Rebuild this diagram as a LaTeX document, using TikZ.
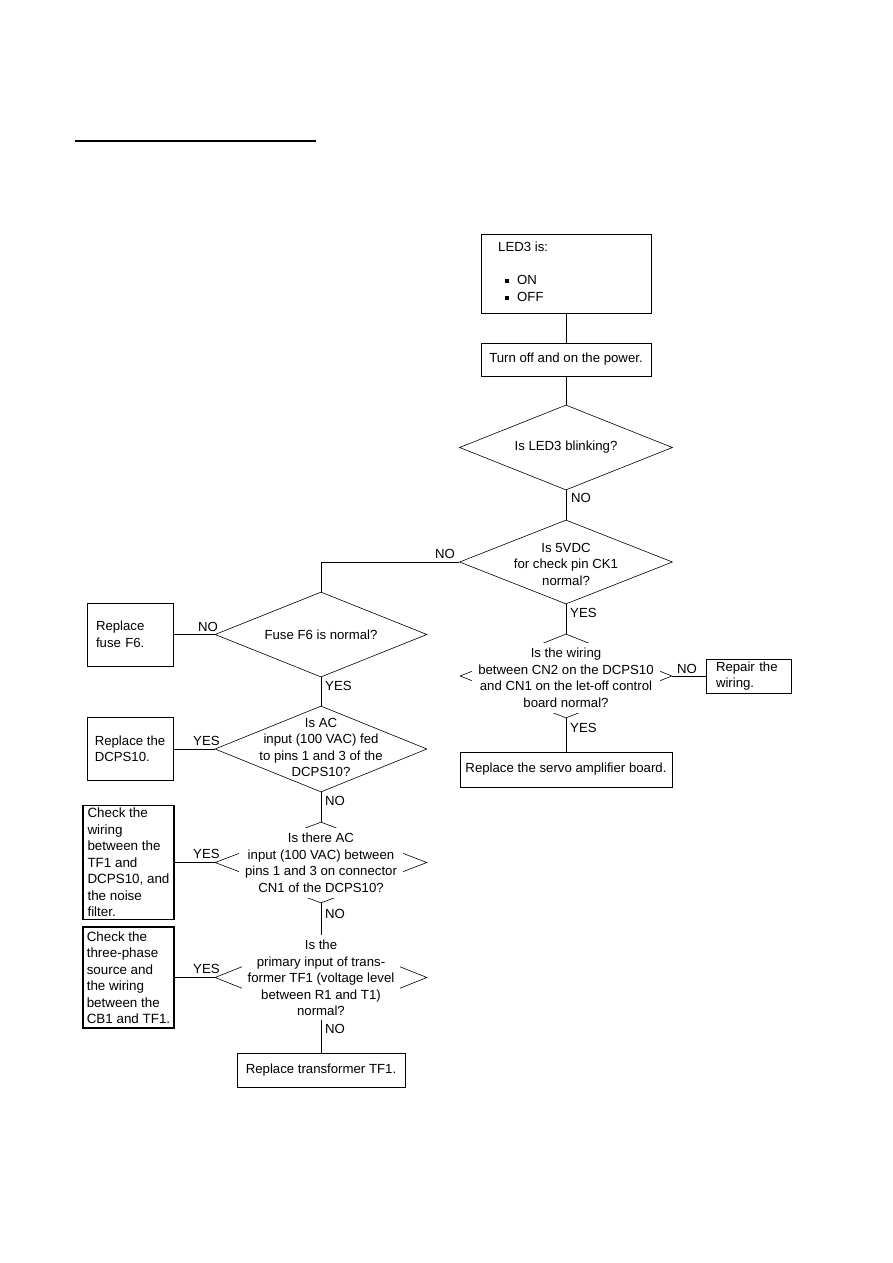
\documentclass[tikz,border=0pt]{standalone}
\usepackage{fontspec}
\setmainfont{Liberation Sans}
\usetikzlibrary{shapes.geometric}
\begin{document}
\begin{tikzpicture}[x=1pt,y=-1pt,
 line/.style={line width=0.6pt},
 box/.style={draw,line width=0.6pt,inner sep=0pt,font=\fontsize{13.2}{16.5}\selectfont},
 thickbox/.style={draw,line width=1.8pt,inner sep=0pt,align=left,minimum width=91pt,font=\fontsize{13.4}{16.5}\selectfont},
 dia/.style={draw,diamond,line width=0.6pt,inner sep=0pt},
 txt/.style={font=\fontsize{13.2}{16.5}\selectfont,align=center,inner sep=0pt},
 wtxt/.style={txt,fill=white,inner xsep=6pt,inner ysep=5pt},
 lbl/.style={font=\fontsize{13.2}{15}\selectfont,inner sep=0pt,anchor=base west},
]
\useasboundingbox (0,0) rectangle (893,1263);
\draw[line width=1.1pt] (75,141) coordinate (ul1) -- (316,141) coordinate (ul2);

% boxes
\node[box,minimum width=170pt,minimum height=79pt] (led) at (566,273.5) {};
\node[txt,anchor=west] (ledt) at (498,247) {LED3 is:};
\node[txt,anchor=west] (ont) at (517,280) {ON};
\node[txt,anchor=west] (offt) at (517,297) {OFF};
\node[fill=black,minimum size=3.5pt,inner sep=0pt] (b1) at (507,281) {};
\node[fill=black,minimum size=3.5pt,inner sep=0pt] (b2) at (507,298) {};
\node[box,minimum width=170pt,minimum height=33pt] (turn) at (566,359.5) {Turn off and on the power.};
\node[box,minimum height=34pt,text width=65pt,inner xsep=10pt,align=left] (repair) at (748.5,676) {Repair the\\wiring.};
\node[box,minimum width=212pt,minimum height=35pt] (servo) at (566,769.5) {Replace the servo amplifier board.};
\node[box,minimum height=63pt,text width=68pt,inner xsep=9pt,align=left] (fuse) at (130,634.5) {Replace\\fuse F6.};
\node[box,minimum height=63pt,minimum width=86pt,align=left] (dcps) at (130,749) {Replace the\\DCPS10.};
\node[thickbox,minimum height=114pt] (check1) at (128.5,862.5) {Check the\\wiring\\between the\\TF1 and\\DCPS10, and\\the noise\\filter.};
\node[thickbox,minimum height=101pt] (check2) at (128.5,977.5) {Check the\\three-phase\\source and\\the wiring\\between the\\CB1 and TF1.};
\node[box,minimum width=168pt,minimum height=34pt] (tf1) at (321,1070) {Replace transformer TF1.};

% diamonds
\node[dia,minimum width=213pt,minimum height=85pt] (d1) at (566,447.5) {};
\node[dia,minimum width=213pt,minimum height=84pt] (d2) at (566,562) {};
\node[dia,minimum width=212pt,minimum height=84pt] (d3) at (566,676) {};
\node[dia,minimum width=212pt,minimum height=85pt] (d4) at (321,634.5) {};
\node[dia,minimum width=212pt,minimum height=86pt] (d5) at (321,749) {};
\node[dia,minimum width=212pt,minimum height=81pt] (d6) at (321,862.5) {};
\node[dia,minimum width=212pt,minimum height=85pt] (d7) at (321,977.5) {};

\node[txt] (t1) at (d1) {Is LED3 blinking?};
\node[txt] (t2) at (566,564) {Is 5VDC\\for check pin CK1\\normal?};
\node[wtxt] (t3) at (566,678) {Is the wiring\\between CN2 on the DCPS10\\and CN1 on the let-off control\\board normal?};
\node[txt] (t4) at (d4) {Fuse F6 is normal?};
\node[txt] (t5) at (321,747.5) {Is AC\\input (100 VAC) fed\\to pins 1 and 3 of the\\DCPS10?};
\node[wtxt] (t6) at (321,863) {Is there AC\\input (100 VAC) between\\pins 1 and 3 on connector\\CN1 of the DCPS10?};
\node[wtxt] (t7) at (321,978) {Is the\\primary input of trans-\\former TF1 (voltage level\\between R1 and T1)\\normal?};

% connectors
\draw[line] (led) -- (turn);
\draw[line] (turn) -- (d1);
\draw[line] (d1.south) -- (d2.north);
\draw[line] (d2.west) -| (d4.north);
\draw[line] (d2.south) -- (d3.north);
\draw[line] (d3.east) -- (repair.west);
\draw[line] (d3.south) -- (servo.north);
\draw[line] (d4.west) -- (fuse.east);
\draw[line] (d4.south) -- (d5.north);
\draw[line] (d5.west) -- (dcps.east);
\draw[line] (d5.south) -- (d6.north);
\draw[line] (d6.west) -- (check1.east);
\draw[line] (d6.south) -- (d7.north);
\draw[line] (d7.west) -- (check2.east);
\draw[line] (d7.south) -- (tf1.north);

% labels
\node[lbl] (l1) at (571,502) {NO};
\node[lbl] (l2) at (435,558) {NO};
\node[lbl] (l3) at (570,617) {YES};
\node[lbl] (l4) at (677,673) {NO};
\node[lbl] (l5) at (570,732) {YES};
\node[lbl] (l6) at (198,631) {NO};
\node[lbl] (l7) at (325,690) {YES};
\node[lbl] (l8) at (193,745) {YES};
\node[lbl] (l9) at (325,805) {NO};
\node[lbl] (l10) at (193,858) {YES};
\node[lbl] (l11) at (325,918) {NO};
\node[lbl] (l12) at (193,973) {YES};
\node[lbl] (l13) at (325,1033) {NO};
\end{tikzpicture}
\end{document}
